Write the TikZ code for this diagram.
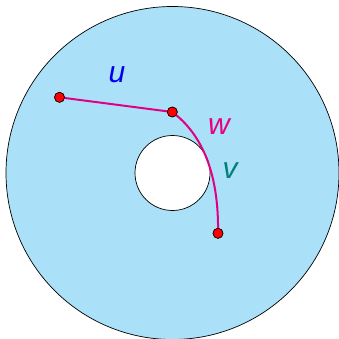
\documentclass[tikz,border=0pt]{standalone}
\usepackage{fontspec}
\setmainfont{Liberation Sans}
\definecolor{disk}{RGB}{170,224,248}
\definecolor{pathc}{RGB}{225,0,130}
\definecolor{lblu}{RGB}{0,0,240}
\definecolor{lblw}{RGB}{230,0,130}
\definecolor{lblv}{RGB}{0,128,120}
\tikzset{
  dot/.style={circle,fill=red,draw=black,line width=0.6pt,inner sep=0pt,minimum size=10pt},
  lbl/.style={font=\fontsize{30}{30}\selectfont\itshape,inner sep=0pt},
  curve/.style={draw=pathc,line width=2pt}
}
\begin{document}
\begin{tikzpicture}[x=1pt,y=-1pt]
\useasboundingbox (0,0) rectangle (338,339);
\draw[fill=disk,line width=0.7pt] (172.5,173) circle (166.5);
\draw[fill=white,line width=0.7pt] (172.5,173) circle (37.5);
\node[dot] (a) at (59.5,97.3) {};
\node[dot] (b) at (172.3,112) {};
\node[dot] (c) at (218,233.3) {};
\draw[curve] (a.center) -- (b.center);
\draw[curve] (b.center) .. controls (203,135) and (219,175) .. (c.center);
\node[dot] at (a) {};
\node[dot] at (b) {};
\node[dot] at (c) {};
\node[lbl,text=lblu] (u) at (117,75) {u};
\node[lbl,text=lblw] (w) at (219,127) {w};
\node[lbl,text=lblv] (v) at (230,171) {v};
\end{tikzpicture}
\end{document}
